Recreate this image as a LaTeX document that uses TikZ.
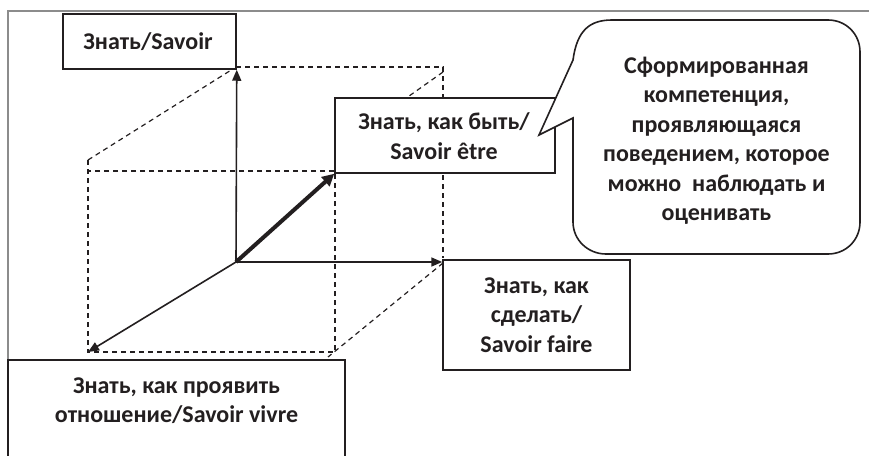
\documentclass[tikz,border=0pt]{standalone}
\usepackage{fontspec}
\setmainfont{Carlito}
\usetikzlibrary{arrows.meta,calc}
\definecolor{ink}{RGB}{35,31,32}
\definecolor{framegray}{RGB}{140,140,140}
\begin{document}
\begin{tikzpicture}[x=1pt,y=-1pt,
  box/.style={draw=ink, line width=1.5pt, fill=white, inner sep=0pt},
  txt/.style={text=ink, font=\fontsize{24}{29.5}\selectfont\bfseries, align=center, inner sep=0pt},
  dsh/.style={draw=ink, line width=1.2pt, dash pattern=on 5pt off 4pt},
  arr/.style={draw=ink, line width=1.6pt, -{Triangle[length=11pt,width=9pt]}},
  thickarr/.style={draw=ink, line width=4pt, -{Triangle[length=12pt,width=12pt]}}]
\useasboundingbox (0,0) rectangle (869,455);
\clip (0,0) rectangle (869,455);
% outer frame
\draw[framegray, line width=1.8pt] (8,455) -- (8,11) -- (869,11);
% named cube points
\coordinate (O) at (236,262);
\coordinate (D) at (88,352);
\coordinate (FTL) at (88,160);
\coordinate (FTR) at (335,171);
\coordinate (FBR) at (335,352);
\coordinate (BTL) at (236,67);
\coordinate (BTR) at (443,67);
\coordinate (BBR) at (443,258);
\coordinate (DBR) at (328,357);
\coordinate (HID) at (395,106);
% dashed cube edges
\draw[dsh] (FTL) -- (D) -- (FBR) -- (FTR) -- (88,171);
\draw[dsh] (FTL) -- (BTL);
\draw[dsh] (BTL) -- (BTR) -- (BBR);
\draw[dsh] (443,72) -- (HID);
\draw[dsh] (443,263) -- (DBR);
% boxes
\node[box, minimum width=173pt, minimum height=55pt] (savoir) at (149.5,41.5) {};
\node[txt] (savoirtxt) at (148,42) {Знать/Savoir};
\node[box, minimum width=220pt, minimum height=75pt] (etre) at (445,135.5) {};
\node[txt] (etretxt) at (444,136) {Знать, как быть/\\Savoir être};
\node[box, minimum width=187pt, minimum height=110pt] (faire) at (536.5,315) {};
\node[txt] (fairetxt) at (536.5,315) {Знать, как\\сделать/\\Savoir faire};
\node[box, minimum width=337pt, minimum height=130pt] (vivre) at (176.5,425) {};
\node[txt] (vivretxt) at (176.5,400.5) {Знать, как проявить\\отношение/Savoir vivre};
% arrows from origin
\draw[arr] (O) -- (savoir.south east);
\draw[arr] (O) -- (O -| faire.west);
\draw[arr] (O) -- (D);
\draw[thickarr] (O) -- (etre.south west);
% callout
\draw[ink, line width=1.6pt, fill=white, line join=miter]
  (573,118) -- (573,222) .. controls (573,240) and (588,254) .. (606,254)
  -- (828,254) .. controls (846,254) and (860,240) .. (860,222)
  -- (860,52) .. controls (860,34) and (846,20) .. (828,20)
  -- (612,20) .. controls (590,20) and (577,30) .. (573,60)
  -- (539,135) -- cycle;
\node[txt] (callout) at (716.5,140.5) {Сформированная\\компетенция,\\проявляющаяся\\поведением, которое\\можно\ \ наблюдать и\\оценивать};
\end{tikzpicture}
\end{document}
